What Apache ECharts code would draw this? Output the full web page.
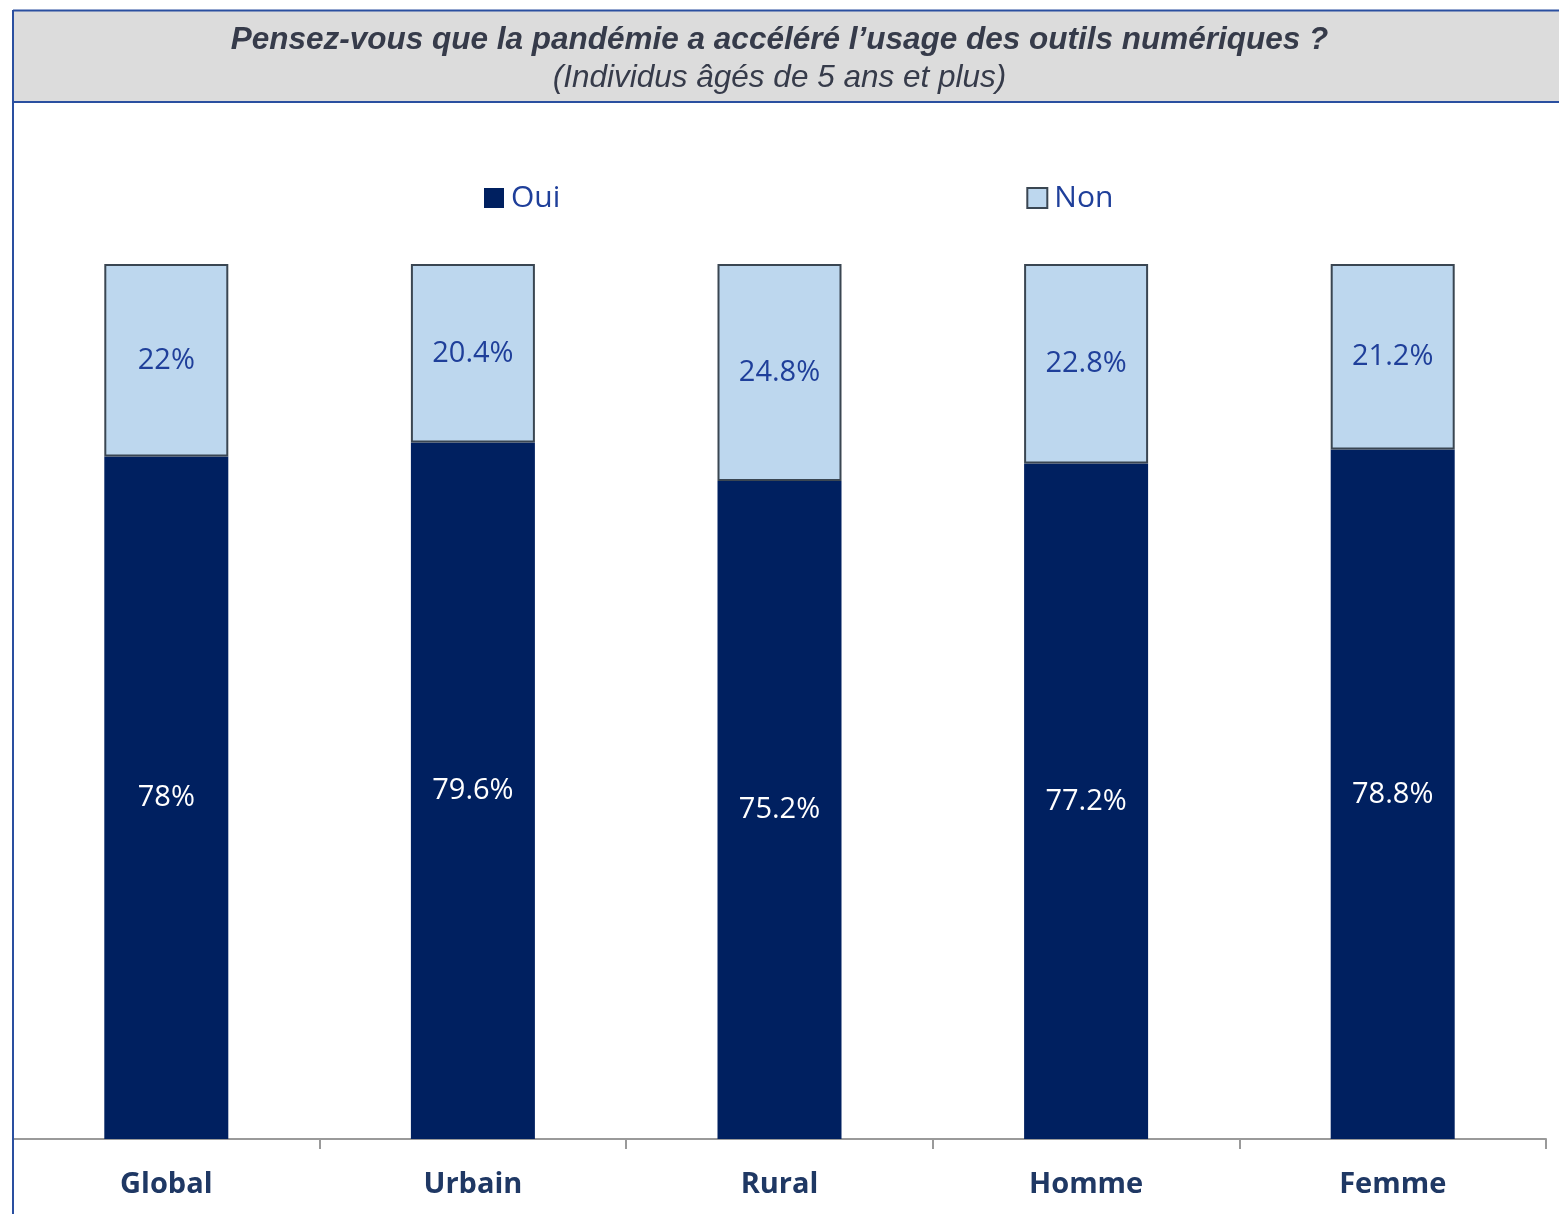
<!DOCTYPE html>
<html>
<head>
<meta charset="utf-8">
<script src="https://cdn.jsdelivr.net/npm/echarts@6/dist/echarts.min.js"></script>
<style>
  html, body { margin: 0; padding: 0; background: #ffffff; }
  #chart { width: 1559px; height: 1214px; }
</style>
</head>
<body>
<div id="chart"></div>
<script>
// Groupes interrogés
const categories = ['Global', 'Urbain', 'Rural', 'Homme', 'Femme'];
// Part des réponses (%)
const ouiValues = [78, 79.6, 75.2, 77.2, 78.8];
const nonValues = [22, 20.4, 24.8, 22.8, 21.2];

const titleText = 'Pensez-vous que la pandémie a accéléré l\u2019usage des outils numériques ?';
const subtitleText = '(Individus âgés de 5 ans et plus)';

const chart = echarts.init(document.getElementById('chart'), null, { renderer: 'canvas' });

const pctLabel = (p) => p.value + '%';

chart.setOption({
  backgroundColor: '#ffffff',
  animation: false,
  graphic: [
    // bandeau gris du titre
    { type: 'rect', z: 0, shape: { x: 13, y: 10, width: 1560, height: 92 },
      style: { fill: '#dcdcdc' } },
    { type: 'line', z: 1, shape: { x1: 13, y1: 10.5, x2: 1559, y2: 10.5 },
      style: { stroke: '#2a4fa0', lineWidth: 2 } },
    { type: 'line', z: 1, shape: { x1: 13, y1: 102, x2: 1559, y2: 102 },
      style: { stroke: '#2a4fa0', lineWidth: 2 } },
    // bordure gauche du cadre
    { type: 'line', z: 1, shape: { x1: 13, y1: 10, x2: 13, y2: 1214 },
      style: { stroke: '#2a4fa0', lineWidth: 2 } }
  ],
  title: {
    text: titleText,
    subtext: subtitleText,
    left: 'center',
    top: 19,
    itemGap: 6,
    textStyle: {
      fontFamily: 'Liberation Sans',
      fontStyle: 'italic',
      fontWeight: 'bold',
      fontSize: 31.5,
      color: '#363b4a'
    },
    subtextStyle: {
      fontFamily: 'Liberation Sans',
      fontStyle: 'italic',
      fontWeight: 'normal',
      fontSize: 31.5,
      color: '#363b4a'
    }
  },
  legend: {
    left: 479,
    top: 178,
    itemWidth: 20,
    itemHeight: 20,
    itemGap: 466,
    icon: 'rect',
    textStyle: { fontFamily: 'Open Sans', fontSize: 30, color: '#1f3f9a', padding: [0, 0, 0, 2] },
    data: [
      { name: 'Oui', itemStyle: { borderWidth: 0 } },
      { name: 'Non', itemStyle: { borderColor: '#3a4652', borderWidth: 2 } }
    ]
  },
  grid: { left: 13, right: 13, top: 264, bottom: 75, containLabel: false },
  xAxis: {
    type: 'category',
    data: categories,
    axisLine: { lineStyle: { color: '#9a9a9a', width: 2 } },
    axisTick: { show: true, length: 10, interval: 0, lineStyle: { color: '#9a9a9a', width: 2 } },
    axisLabel: {
      margin: 31,
      fontFamily: 'Open Sans',
      fontWeight: 'bold',
      fontSize: 29,
      color: '#1f3864'
    }
  },
  yAxis: { type: 'value', min: 0, max: 100, show: false },
  series: [
    {
      name: 'Oui',
      type: 'bar',
      stack: 'total',
      barWidth: 124,
      data: ouiValues,
      itemStyle: { color: '#002060' },
      label: {
        show: true,
        position: 'inside',
        formatter: pctLabel,
        fontFamily: 'Open Sans',
        fontSize: 29,
        color: '#ffffff'
      }
    },
    {
      name: 'Non',
      type: 'bar',
      stack: 'total',
      barWidth: 124,
      data: nonValues,
      itemStyle: { color: '#bdd7ee', borderColor: '#3a4652', borderWidth: 2 },
      label: {
        show: true,
        position: 'inside',
        formatter: pctLabel,
        fontFamily: 'Open Sans',
        fontSize: 29,
        color: '#1f3f9a'
      }
    }
  ]
});
</script>
</body>
</html>
